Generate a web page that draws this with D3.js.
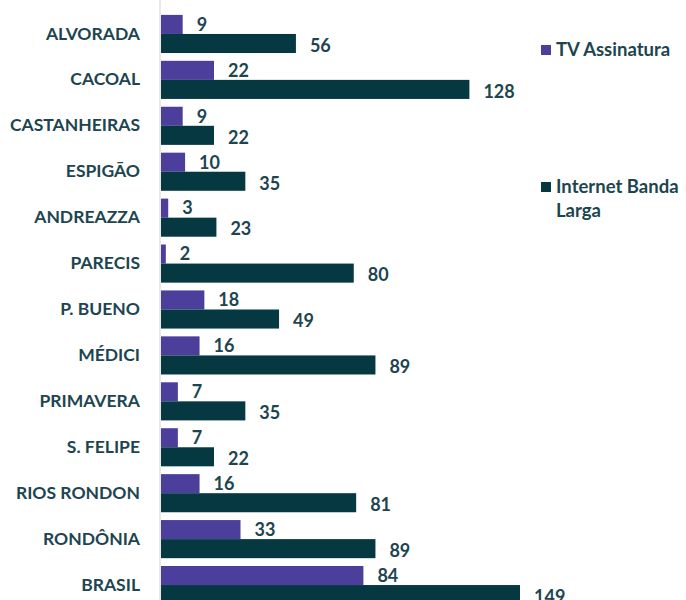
<!DOCTYPE html>
<html>
<head>
<meta charset="utf-8">
<script src="https://cdn.jsdelivr.net/npm/d3@7"></script>
<style>
  body { margin: 0; background: #fff; }
  svg { display: block; font-family: Lato, "Open Sans", sans-serif; font-weight: bold; }
</style>
</head>
<body>
<svg id="chart" width="686" height="600"></svg>
<script>
const categories = ["ALVORADA", "CACOAL", "CASTANHEIRAS", "ESPIGÃO", "ANDREAZZA", "PARECIS",
  "P. BUENO", "MÉDICI", "PRIMAVERA", "S. FELIPE", "RIOS RONDON", "RONDÔNIA", "BRASIL"];
const tvAssinatura = [9, 22, 9, 10, 3, 2, 18, 16, 7, 7, 16, 33, 84];
const internetBanda = [56, 128, 22, 35, 23, 80, 49, 89, 35, 22, 81, 89, 149];
const seriesNames = ["TV Assinatura", "Internet Banda Larga"];

const colors = ["#4c3f9c", "#053840"];
const textColor = "#1d4550";

const svg = d3.select("#chart");

const x = d3.scaleLinear().domain([0, 149]).range([161, 520]);
const y = d3.scaleBand().domain(categories).range([11, 608]).paddingInner(0.17).paddingOuter(0.085);
const sub = d3.scaleBand().domain([0, 1]).range([0, y.bandwidth()]);

const rows = categories.map((c, i) => ({ cat: c, vals: [tvAssinatura[i], internetBanda[i]] }));

const g = svg.append("g");

const group = g.selectAll("g.row")
  .data(rows)
  .join("g")
  .attr("class", "row")
  .attr("transform", (d) => `translate(0,${y(d.cat)})`);

group.selectAll("rect")
  .data((d) => d.vals.map((v, k) => ({ v, k })))
  .join("rect")
  .attr("x", x(0))
  .attr("y", (d) => sub(d.k))
  .attr("width", (d) => x(d.v) - x(0))
  .attr("height", sub.bandwidth())
  .attr("fill", (d) => colors[d.k]);

group.selectAll("text.val")
  .data((d) => d.vals.map((v, k) => ({ v, k })))
  .join("text")
  .attr("class", "val")
  .attr("x", (d) => x(d.v) + 14)
  .attr("y", (d) => sub(d.k) + sub.bandwidth() / 2 + (d.k === 1 ? 2 : 0))
  .attr("dy", "0.35em")
  .attr("font-size", 18)
  .attr("fill", textColor)
  .text((d) => d.v);

// category axis
const axis = g.append("g")
  .attr("transform", `translate(${x(0) - 1},0)`)
  .call(d3.axisLeft(y).tickSize(0).tickPadding(20));
axis.select(".domain").attr("stroke", "#d9d9d9").attr("stroke-width", 1.2)
  .attr("d", `M0,0V600`);
axis.selectAll("text")
  .attr("font-size", 17.5)
  .attr("font-family", "Lato, 'Open Sans', sans-serif")
  .attr("font-weight", "bold")
  .attr("fill", textColor);

// legend
const legend = svg.append("g");
const legendItems = [
  { name: ["TV Assinatura"], y: 50, k: 0 },
  { name: ["Internet Banda", "Larga"], y: 187, k: 1 },
];
legendItems.forEach((it) => {
  legend.append("rect")
    .attr("x", 541).attr("y", it.y - 5)
    .attr("width", 10).attr("height", 10)
    .attr("fill", colors[it.k]);
  it.name.forEach((line, j) => {
    legend.append("text")
      .attr("x", 556).attr("y", it.y + j * 24)
      .attr("dy", "0.35em")
      .attr("font-size", 18.5)
      .attr("fill", textColor)
      .text(line);
  });
});
</script>
</body>
</html>
